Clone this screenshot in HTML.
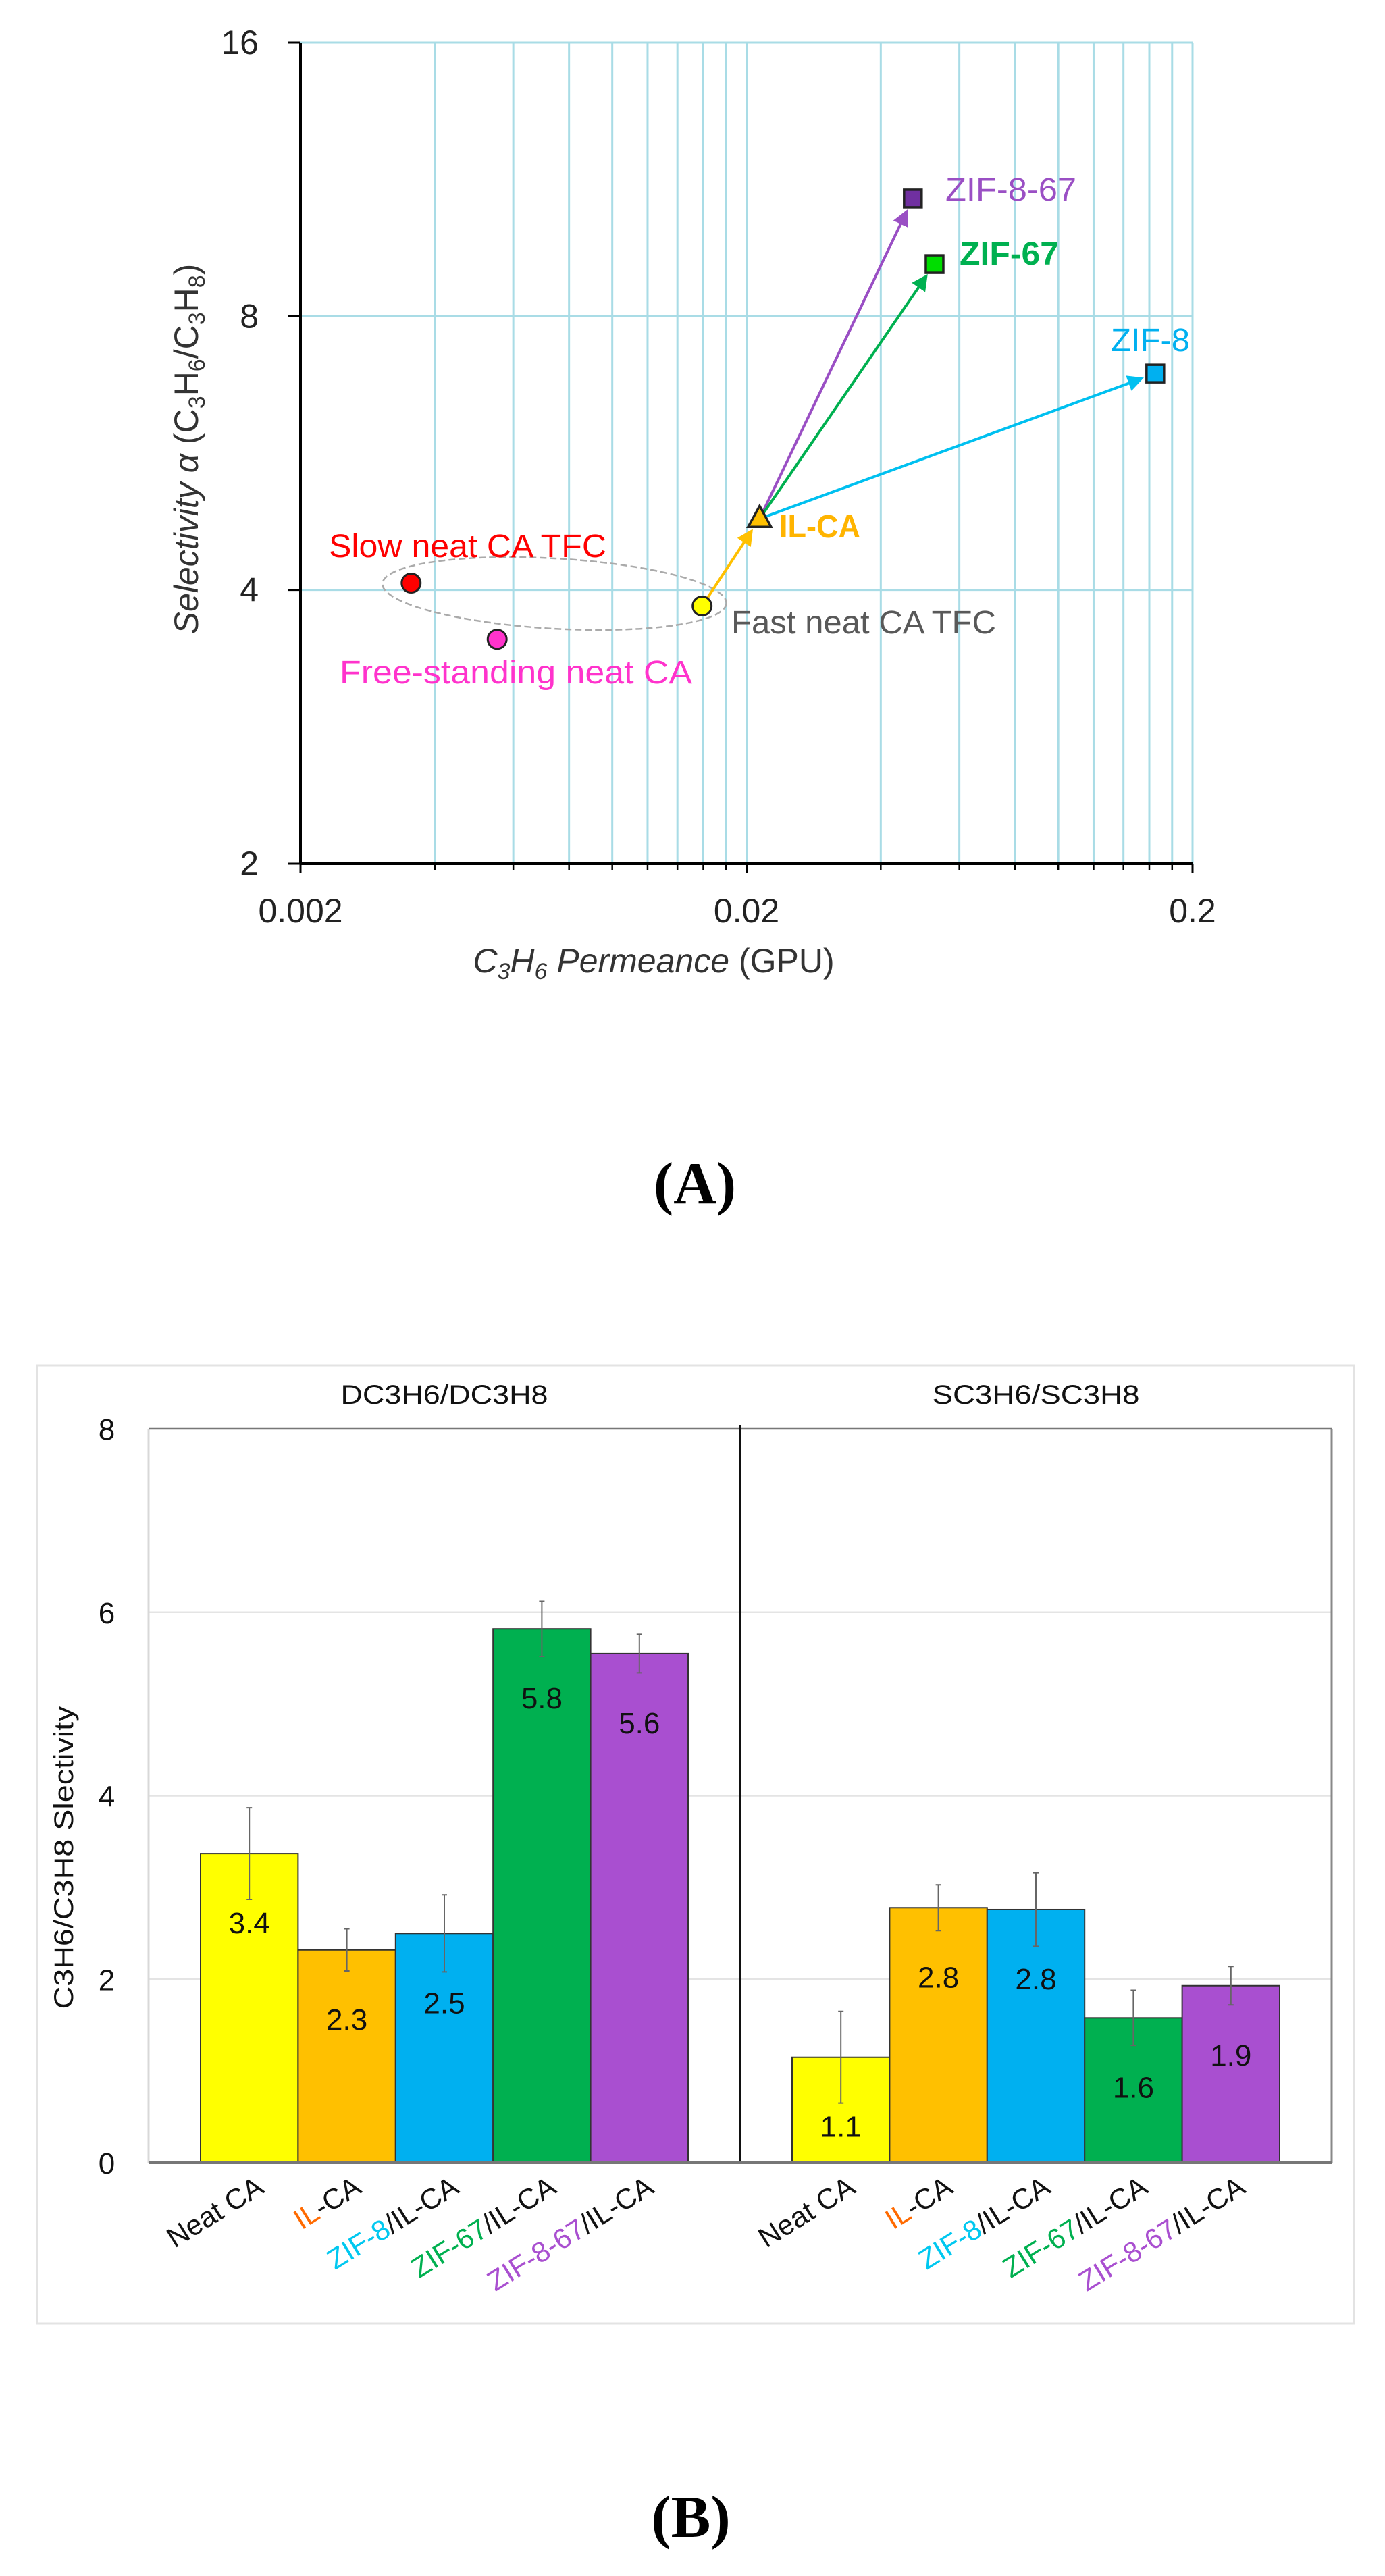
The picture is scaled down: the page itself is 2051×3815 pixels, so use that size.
<!DOCTYPE html>
<html><head><meta charset="utf-8">
<style>
html,body{margin:0;padding:0;background:#fff;}
svg{display:block;}
text{font-family:"Liberation Sans",sans-serif;}
</style></head>
<body>
<svg id="root" width="2051" height="3815" viewBox="0 0 2051 3815" xmlns="http://www.w3.org/2000/svg">
<defs>
<marker id="arrO" markerWidth="6" markerHeight="6" refX="5" refY="3" orient="auto" markerUnits="strokeWidth"><path d="M0,0 L6,3 L0,6 z" fill="#ffc000"/></marker>
<marker id="arrP" markerWidth="6" markerHeight="6" refX="5" refY="3" orient="auto" markerUnits="strokeWidth"><path d="M0,0 L6,3 L0,6 z" fill="#9a4fc4"/></marker>
<marker id="arrG" markerWidth="6" markerHeight="6" refX="5" refY="3" orient="auto" markerUnits="strokeWidth"><path d="M0,0 L6,3 L0,6 z" fill="#00b050"/></marker>
<marker id="arrB" markerWidth="6" markerHeight="6" refX="5" refY="3" orient="auto" markerUnits="strokeWidth"><path d="M0,0 L6,3 L0,6 z" fill="#00c0f0"/></marker>
</defs>
<g id="chartA"></g>
<text x="1029" y="1782" text-anchor="middle" font-size="88" font-weight="bold" style="font-family:'Liberation Serif',serif">(A)</text>
<g id="chartB"></g>
<text x="1023" y="3757" text-anchor="middle" font-size="88" font-weight="bold" style="font-family:'Liberation Serif',serif">(B)</text>
</svg>
<script>
// ---------- Chart A data ----------
const ptNames = ["Slow neat CA TFC","Free-standing neat CA","Fast neat CA TFC","IL-CA","ZIF-8-67","ZIF-67","ZIF-8"];
const ptPerm = [0.00354,0.00552,0.0159,0.0214,0.0472,0.0528,0.165];
const ptSel = [4.07,3.53,3.84,4.79,10.78,9.13,6.92];
const xTickLabels = ["0.002","0.02","0.2"];
const xTickVals = [0.002,0.02,0.2];
const yTickVals = [2,4,8,16];
const yTickLabels = ["2","4","8","16"];

// ---------- Chart B data ----------
const categories = ["Neat CA","IL-CA","ZIF-8/IL-CA","ZIF-67/IL-CA","ZIF-8-67/IL-CA"];
const panels = ["DC3H6/DC3H8","SC3H6/SC3H8"];
const dValues = [3.37,2.32,2.50,5.82,5.55];
const dErrors = [0.50,0.23,0.42,0.30,0.21];
const dLabels = ["3.4","2.3","2.5","5.8","5.6"];
const sValues = [1.15,2.78,2.76,1.58,1.93];
const sErrors = [0.50,0.25,0.40,0.30,0.21];
const sLabels = ["1.1","2.8","2.8","1.6","1.9"];
const bTicks = [0,2,4,6,8];

const NS="http://www.w3.org/2000/svg";
function mk(parent,tag,attrs,txt){const e=document.createElementNS(NS,tag);for(const k in attrs)e.setAttribute(k,attrs[k]);if(txt!==undefined)e.textContent=txt;parent.appendChild(e);return e;}

// ===== Chart A =====
const A=document.getElementById('chartA');
const AX0=445,AX1=1766,AY0=1279,AY1=63;
function xA(v){return AX0+(Math.log10(v)-Math.log10(0.002))*(AX1-AX0)/2;}
function yA(v){return AY0-Math.log2(v/2)*(AY0-AY1)/3;}
for(let d=0;d<2;d++){for(let k=2;k<=10;k++){const v=0.002*Math.pow(10,d)*k;const x=xA(v);
 const g=mk(A,'line',{x1:x,y1:AY1,x2:x,y2:AY0,stroke:'#a9dce6','stroke-width':3});
 
 
 const t=mk(A,'line',{x1:x,y1:AY0,x2:x,y2:AY0+9,stroke:'#000','stroke-width':2.5});
 
 }}
[4,8,16].forEach(v=>{const g=mk(A,'line',{x1:AX0,y1:yA(v),x2:AX1,y2:yA(v),stroke:'#a9dce6','stroke-width':3});
 
 });
let ax=mk(A,'line',{x1:AX0,y1:AY1,x2:AX0,y2:AY0,stroke:'#000','stroke-width':4});


ax=mk(A,'line',{x1:AX0,y1:AY0,x2:AX1,y2:AY0,stroke:'#000','stroke-width':4});


yTickVals.forEach((v,i)=>{const y=yA(v);
 const t=mk(A,'line',{x1:AX0-18,y1:y,x2:AX0,y2:y,stroke:'#000','stroke-width':3});
 
 
 const l=mk(A,'text',{x:AX0-62,y:y+17,'text-anchor':'end','font-size':50,fill:'#222'},yTickLabels[i]);
 
 });
xTickVals.forEach((v,i)=>{const x=xA(v);
 const t=mk(A,'line',{x1:x,y1:AY0,x2:x,y2:AY0+14,stroke:'#000','stroke-width':3});
 
 
 const l=mk(A,'text',{x:x,y:AY0+87,'text-anchor':'middle','font-size':50,fill:'#222'},xTickLabels[i]);
 
 });
let xt=mk(A,'text',{x:968,y:1440,'text-anchor':'middle','font-size':50,fill:'#333'});


xt.innerHTML='<tspan font-style="italic">C</tspan><tspan font-style="italic" font-size="34" dy="10">3</tspan><tspan font-style="italic" dy="-10">H</tspan><tspan font-style="italic" font-size="34" dy="10">6</tspan><tspan font-style="italic" dy="-10"> Permeance</tspan><tspan> (GPU)</tspan>';
let yt=mk(A,'text',{x:0,y:0,'text-anchor':'middle','font-size':50,fill:'#333',transform:'translate(293,665) rotate(-90)'});


yt.innerHTML='<tspan font-style="italic">Selectivity α</tspan><tspan> (C</tspan><tspan font-size="34" dy="10">3</tspan><tspan dy="-10">H</tspan><tspan font-size="34" dy="10">6</tspan><tspan dy="-10">/C</tspan><tspan font-size="34" dy="10">3</tspan><tspan dy="-10">H</tspan><tspan font-size="34" dy="10">8</tspan><tspan dy="-10">)</tspan>';
let el=mk(A,'ellipse',{cx:821,cy:879,rx:255,ry:52,fill:'none',stroke:'#aaa','stroke-width':2.5,'stroke-dasharray':'10 5',transform:'rotate(3.3 821 879)'});


function arrow(i,j,col,mid,name){const x1=xA(ptPerm[i]),y1=yA(ptSel[i]),x2=xA(ptPerm[j]),y2=yA(ptSel[j]);
 const dx=x2-x1,dy=y2-y1,L=Math.hypot(dx,dy),s=(L-22)/L,o=10/L;
 const a=mk(A,'line',{x1:x1+dx*o,y1:y1+dy*o,x2:x1+dx*s,y2:y1+dy*s,stroke:col,'stroke-width':4,'marker-end':'url(#'+mid+')'});
 
 }
arrow(2,3,'#ffc000','arrO','arrow-to-il-ca');
arrow(3,4,'#9a4fc4','arrP','arrow-to-zif-8-67');
arrow(3,5,'#00b050','arrG','arrow-to-zif-67');
arrow(3,6,'#00c0f0','arrB','arrow-to-zif-8');
const mkCol=['#ff0000','#ff33cc','#ffff00','#ffc000','#7030a0','#00dd00','#00b0f0'];
const mkShape=['c','c','c','t','s','s','s'];
ptPerm.forEach((v,i)=>{const x=xA(v),y=yA(ptSel[i]);let m;
 if(mkShape[i]==='c')m=mk(A,'circle',{cx:x,cy:y,r:14,fill:mkCol[i],stroke:'#222','stroke-width':3});
 else if(mkShape[i]==='s')m=mk(A,'rect',{x:x-13,y:y-13,width:26,height:26,fill:mkCol[i],stroke:'#222','stroke-width':3.5});
 else m=mk(A,'polygon',{points:(x)+','+(y-19)+' '+(x-17)+','+(y+12)+' '+(x+17)+','+(y+12),fill:mkCol[i],stroke:'#222','stroke-width':3.5});
 
 });
const lab=[[487,825,411,'#ff0000','normal'],[503,1012,522,'#ff33cc','normal'],[1083,938,392,'#595959','normal'],[1154,796,120,'#ffb400','bold'],[1400,297,194,'#9a4fc4','normal'],[1421,392,147,'#00b050','bold'],[1645,520,117,'#00b0f0','normal']];
ptNames.forEach((n,i)=>{const L=lab[i];
 const t=mk(A,'text',{x:L[0],y:L[1],'font-size':48,fill:L[3],'font-weight':L[4],textLength:L[2],lengthAdjust:'spacingAndGlyphs'},n);
 
 });

// ===== Chart B =====
const B=document.getElementById('chartB');
const BX0=220,BX1=1972,BY0=3203,BY1=2116,BDIV=1096;
function yB(v){return BY0-(v/8)*(BY0-BY1);}
let box=mk(B,'rect',{x:55,y:2022,width:1950,height:1419,fill:'#fff',stroke:'#e3e3e3','stroke-width':3});


[2,4,6].forEach(v=>{const g=mk(B,'line',{x1:BX0,y1:yB(v),x2:BX1,y2:yB(v),stroke:'#e4e4e4','stroke-width':2.5});
 
 });
let bl=mk(B,'line',{x1:BX0,y1:BY1,x2:BX0,y2:BY0,stroke:'#d8d8d8','stroke-width':3});


bl=mk(B,'line',{x1:BX0,y1:BY1,x2:BX1,y2:BY1,stroke:'#777','stroke-width':2.5});


bl=mk(B,'line',{x1:BX1,y1:BY1,x2:BX1,y2:BY0,stroke:'#888','stroke-width':3});


bl=mk(B,'line',{x1:BDIV,y1:BY1-6,x2:BDIV,y2:BY0,stroke:'#111','stroke-width':3});


bTicks.forEach(v=>{const t=mk(B,'text',{x:158,y:yB(v)+16,'text-anchor':'middle','font-size':44,fill:'#111'},String(v));
 
 });
let byt=mk(B,'text',{x:0,y:0,'text-anchor':'middle','font-size':40,fill:'#111',textLength:449,lengthAdjust:'spacingAndGlyphs',transform:'translate(108,2751) rotate(-90)'},'C3H6/C3H8 Slectivity');


const barCols=['#ffff00','#ffc000','#00b0f0','#00b050','#a94fd0'];
const catCols=[null,'#ff6a00','#00c8f0','#00b050','#a94fd0'];
const BW=(BDIV-BX0-154)/5;
const series=[[dValues,dErrors,dLabels],[sValues,sErrors,sLabels]];
panels.forEach((p,pi)=>{const p0=pi===0?BX0:BDIV;
 const pt=mk(B,'text',{x:p0+(BDIV-BX0)/2,y:2079,'text-anchor':'middle','font-size':40,fill:'#111',textLength:307,lengthAdjust:'spacingAndGlyphs'},p);
 
 
 const vals=series[pi][0],errs=series[pi][1],labs=series[pi][2];
 vals.forEach((v,i)=>{const x=p0+77+i*BW,top=yB(v);
  const r=mk(B,'rect',{x:x,y:top,width:BW,height:BY0-top,fill:barCols[i],stroke:'#333','stroke-width':2});
  
  
  const cx=x+BW/2;
  const e=mk(B,'path',{d:'M'+cx+','+yB(v+errs[i])+'V'+yB(v-errs[i])+'M'+(cx-4)+','+yB(v+errs[i])+'h8M'+(cx-4)+','+yB(v-errs[i])+'h8',stroke:'#666','stroke-width':2,fill:'none'});
  
  
  const t=mk(B,'text',{x:cx,y:top+118,'text-anchor':'middle','font-size':44,fill:'#111'},labs[i]);
  
  
  const c=mk(B,'text',{x:0,y:0,'text-anchor':'end','font-size':42,fill:'#111',transform:'translate('+(cx+24)+',3246) rotate(-32)'});
  
  
  const name=categories[i];
  if(i===0){c.textContent=name;}
  else{const k=name.lastIndexOf(i===1?'-CA':'/IL-CA');const pre=name.slice(0,k),post=name.slice(k);
   mk(c,'tspan',{fill:catCols[i]},pre);mk(c,'tspan',{},post);}
 });
});
bl=mk(B,'line',{x1:BX0,y1:BY0,x2:BX1,y2:BY0,stroke:'#777','stroke-width':4});


</script>
</body></html>
